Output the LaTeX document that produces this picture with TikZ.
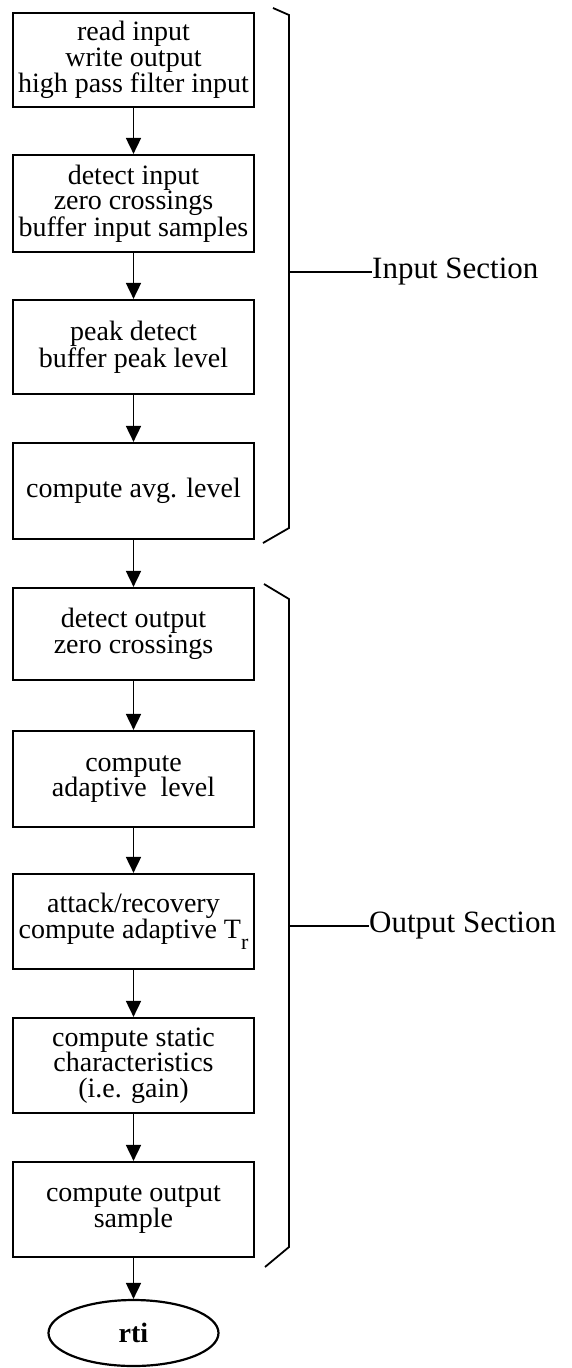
\documentclass[tikz,border=0pt]{standalone}
\usepackage{fontspec}
\setmainfont{Liberation Serif}
\usetikzlibrary{arrows.meta,shapes.geometric}
\tikzset{
  stepbox/.style={draw, line width=2.2pt, minimum width=241pt, inner sep=0pt, align=center,
    font=\fontsize{28}{25.5}\selectfont},
  flowarr/.style={line width=1.8pt, -{Triangle[length=16pt,width=15pt]}},
  brace/.style={line width=1.8pt, line join=miter},
  seclabel/.style={anchor=west, inner sep=0pt, font=\fontsize{31}{31}\selectfont},
}
\begin{document}
\begin{tikzpicture}[x=1pt,y=-1pt]
\useasboundingbox (0,0) rectangle (571,1368);
\node[stepbox, minimum height=94pt] (b1) at (133.5,60) {read input\\write output\\high pass filter input};
\node[stepbox, minimum height=97pt] (b2) at (133.5,203.5) {detect input\\zero crossings\\buffer input samples};
\node[stepbox, minimum height=94pt] (b3) at (133.5,347) {peak detect\\buffer peak level};
\node[stepbox, minimum height=96pt] (b4) at (133.5,491) {compute avg. level};
\node[stepbox, minimum height=92pt] (b5) at (133.5,634) {detect output\\zero crossings};
\node[stepbox, minimum height=96pt] (b6) at (133.5,779) {compute\\adaptive\ \ level};
\node[stepbox, minimum height=95pt] (b7) at (133.5,921.5) {attack/recovery\\compute adaptive T\raisebox{-0.4em}{\fontsize{22}{22}\selectfont r}};
\node[stepbox, minimum height=95pt] (b8) at (133.5,1065.5) {compute static\\characteristics\\(i.e. gain)};
\node[stepbox, minimum height=95pt] (b9) at (133.5,1209.5) {compute output\\sample};
\node[draw, ellipse, line width=2.2pt, minimum width=170pt, minimum height=66pt, inner sep=0pt,
  font=\fontsize{28}{28}\selectfont\bfseries] (end) at (133.5,1333) {rti};

\draw[flowarr] (b1) -- (b2);
\draw[flowarr] (b2) -- (b3);
\draw[flowarr] (b3) -- (b4);
\draw[flowarr] (b4) -- (b5);
\draw[flowarr] (b5) -- (b6);
\draw[flowarr] (b6) -- (b7);
\draw[flowarr] (b7) -- (b8);
\draw[flowarr] (b8) -- (b9);
\draw[flowarr] (b9) -- (end);

% Input section bracket
\draw[brace] (273,8) -- (289,15) -- (289,528) -- (263,543);
\coordinate (itick) at (289,272);
\node[seclabel] (inlab) at (372,272) {Input Section};
\draw[brace] (itick) -- (inlab.west);

% Output section bracket
\draw[brace] (264,584) -- (289,599) -- (289,1247) -- (265,1267);
\coordinate (otick) at (289,926);
\node[seclabel] (outlab) at (369,926) {Output Section};
\draw[brace] (otick) -- (outlab.west);
\end{tikzpicture}
\end{document}
